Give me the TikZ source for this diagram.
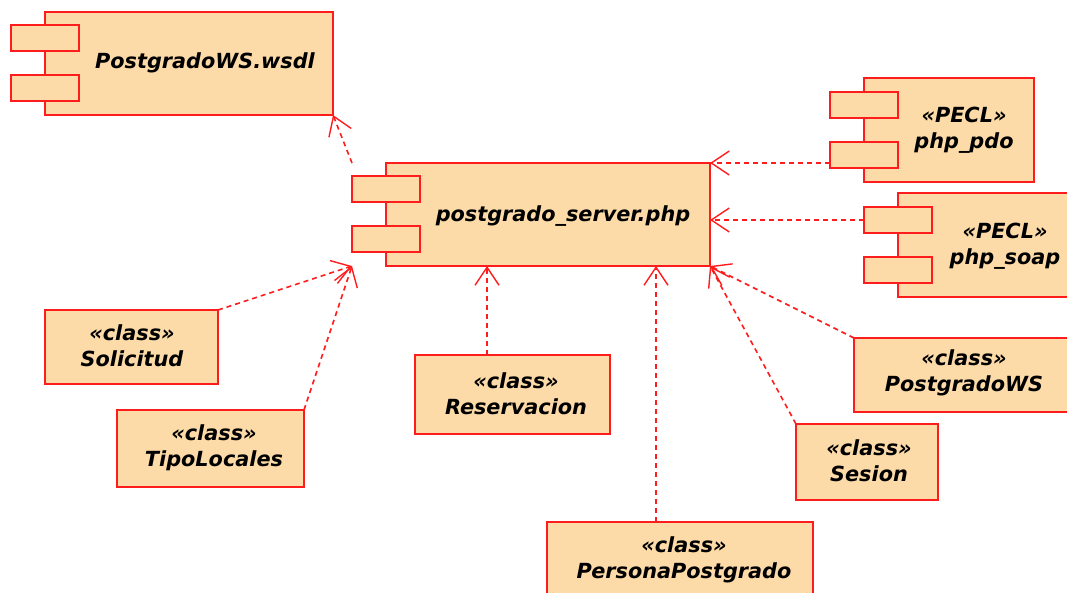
\documentclass[tikz,border=0pt]{standalone}
\usepackage{fontspec}
\setmainfont{DejaVu Sans}
\usetikzlibrary{arrows.meta,calc}
\definecolor{boxfill}{RGB}{253,219,168}
\definecolor{umlred}{RGB}{255,28,28}

\begin{document}
\begin{tikzpicture}[x=1pt,y=-1pt,
  box/.style={draw=umlred, fill=boxfill, line width=1.9pt, inner sep=0pt, outer sep=0pt, anchor=north west},
  sz/.style 2 args={minimum width=#1pt, minimum height=#2pt},
  port/.style={box, sz={68}{26}},
  lbl/.style={font=\bfseries\itshape\fontsize{20.8}{26}\selectfont, align=center, inner sep=0pt},
  dep/.style={draw=umlred, line width=1.6pt, dash pattern=on 5pt off 4pt,
    -{Straight Barb[length=18pt, width=24pt, line width=1.4pt]}}]
\clip (0,0) rectangle (1067,593);

% components: body, then the two ports over its left edge
\node[box, sz={288}{103}] (wsdl) at (45,12) {};
\node[port] (wsdlP1) at (11,25) {};
\node[port] (wsdlP2) at (11,75) {};
\node[lbl] (wsdlT) at (205,63) {PostgradoWS.wsdl};

\node[box, sz={324}{103}] (srv) at (386,163) {};
\node[port] (srvP1) at (352,176) {};
\node[port] (srvP2) at (352,226) {};
\node[lbl] (srvT) at (563,216) {postgrado\_server.php};

\node[box, sz={170}{104}] (pdo) at (864,78) {};
\node[port] (pdoP1) at (830,92) {};
\node[port] (pdoP2) at (830,142) {};
\node[lbl] (pdoT) at (964,130) {«PECL»\\php\_pdo};

\node[box, sz={180}{104}] (soap) at (898,193) {};
\node[port] (soapP1) at (864,207) {};
\node[port] (soapP2) at (864,257) {};
\node[lbl] (soapT) at (1005,246) {«PECL»\\php\_soap};

% classes
\node[box, sz={173}{74}] (sol) at (45,310) {};
\node[lbl] (solT) at (132,346) {«class»\\Solicitud};

\node[box, sz={187}{77}] (tipo) at (117,410) {};
\node[lbl] (tipoT) at (214,448) {«class»\\TipoLocales};

\node[box, sz={195}{79}] (res) at (415,355) {};
\node[lbl] (resT) at (516,394) {«class»\\Reservacion};

\node[box, sz={222}{74}] (pws) at (854,338) {};
\node[lbl] (pwsT) at (964,373) {«class»\\PostgradoWS};

\node[box, sz={142}{76}] (ses) at (796,424) {};
\node[lbl] (sesT) at (869,461) {«class»\\Sesion};

\node[box, sz={266}{80}] (per) at (547,522) {};
\node[lbl] (perT) at (684,560) {«class»\\PersonaPostgrado};

% dependency end points on the server component
\coordinate (tipL) at (srvP2.west |- srv.south);
\coordinate (tipRes) at (487,266);
\coordinate (tipPer) at (656,266);

% dependencies
\draw[dep] (srvP1.west |- srv.north) -- (wsdl.south east);
\draw[dep] (pdoP2.west |- srv.north east) -- (srv.north east);
\draw[dep] (soapP1.west) -- (srv.east |- soapP1.west);
\draw[dep] (sol.north east) -- (tipL);
\draw[dep] (tipo.north east) -- (tipL);
\draw[dep] (res.north -| tipRes) -- (tipRes);
\draw[dep] (per.north -| tipPer) -- (tipPer);
\draw[dep] (ses.north west) -- (srv.south east);
\draw[dep] (pws.north west) -- (srv.south east);
\end{tikzpicture}
\end{document}
